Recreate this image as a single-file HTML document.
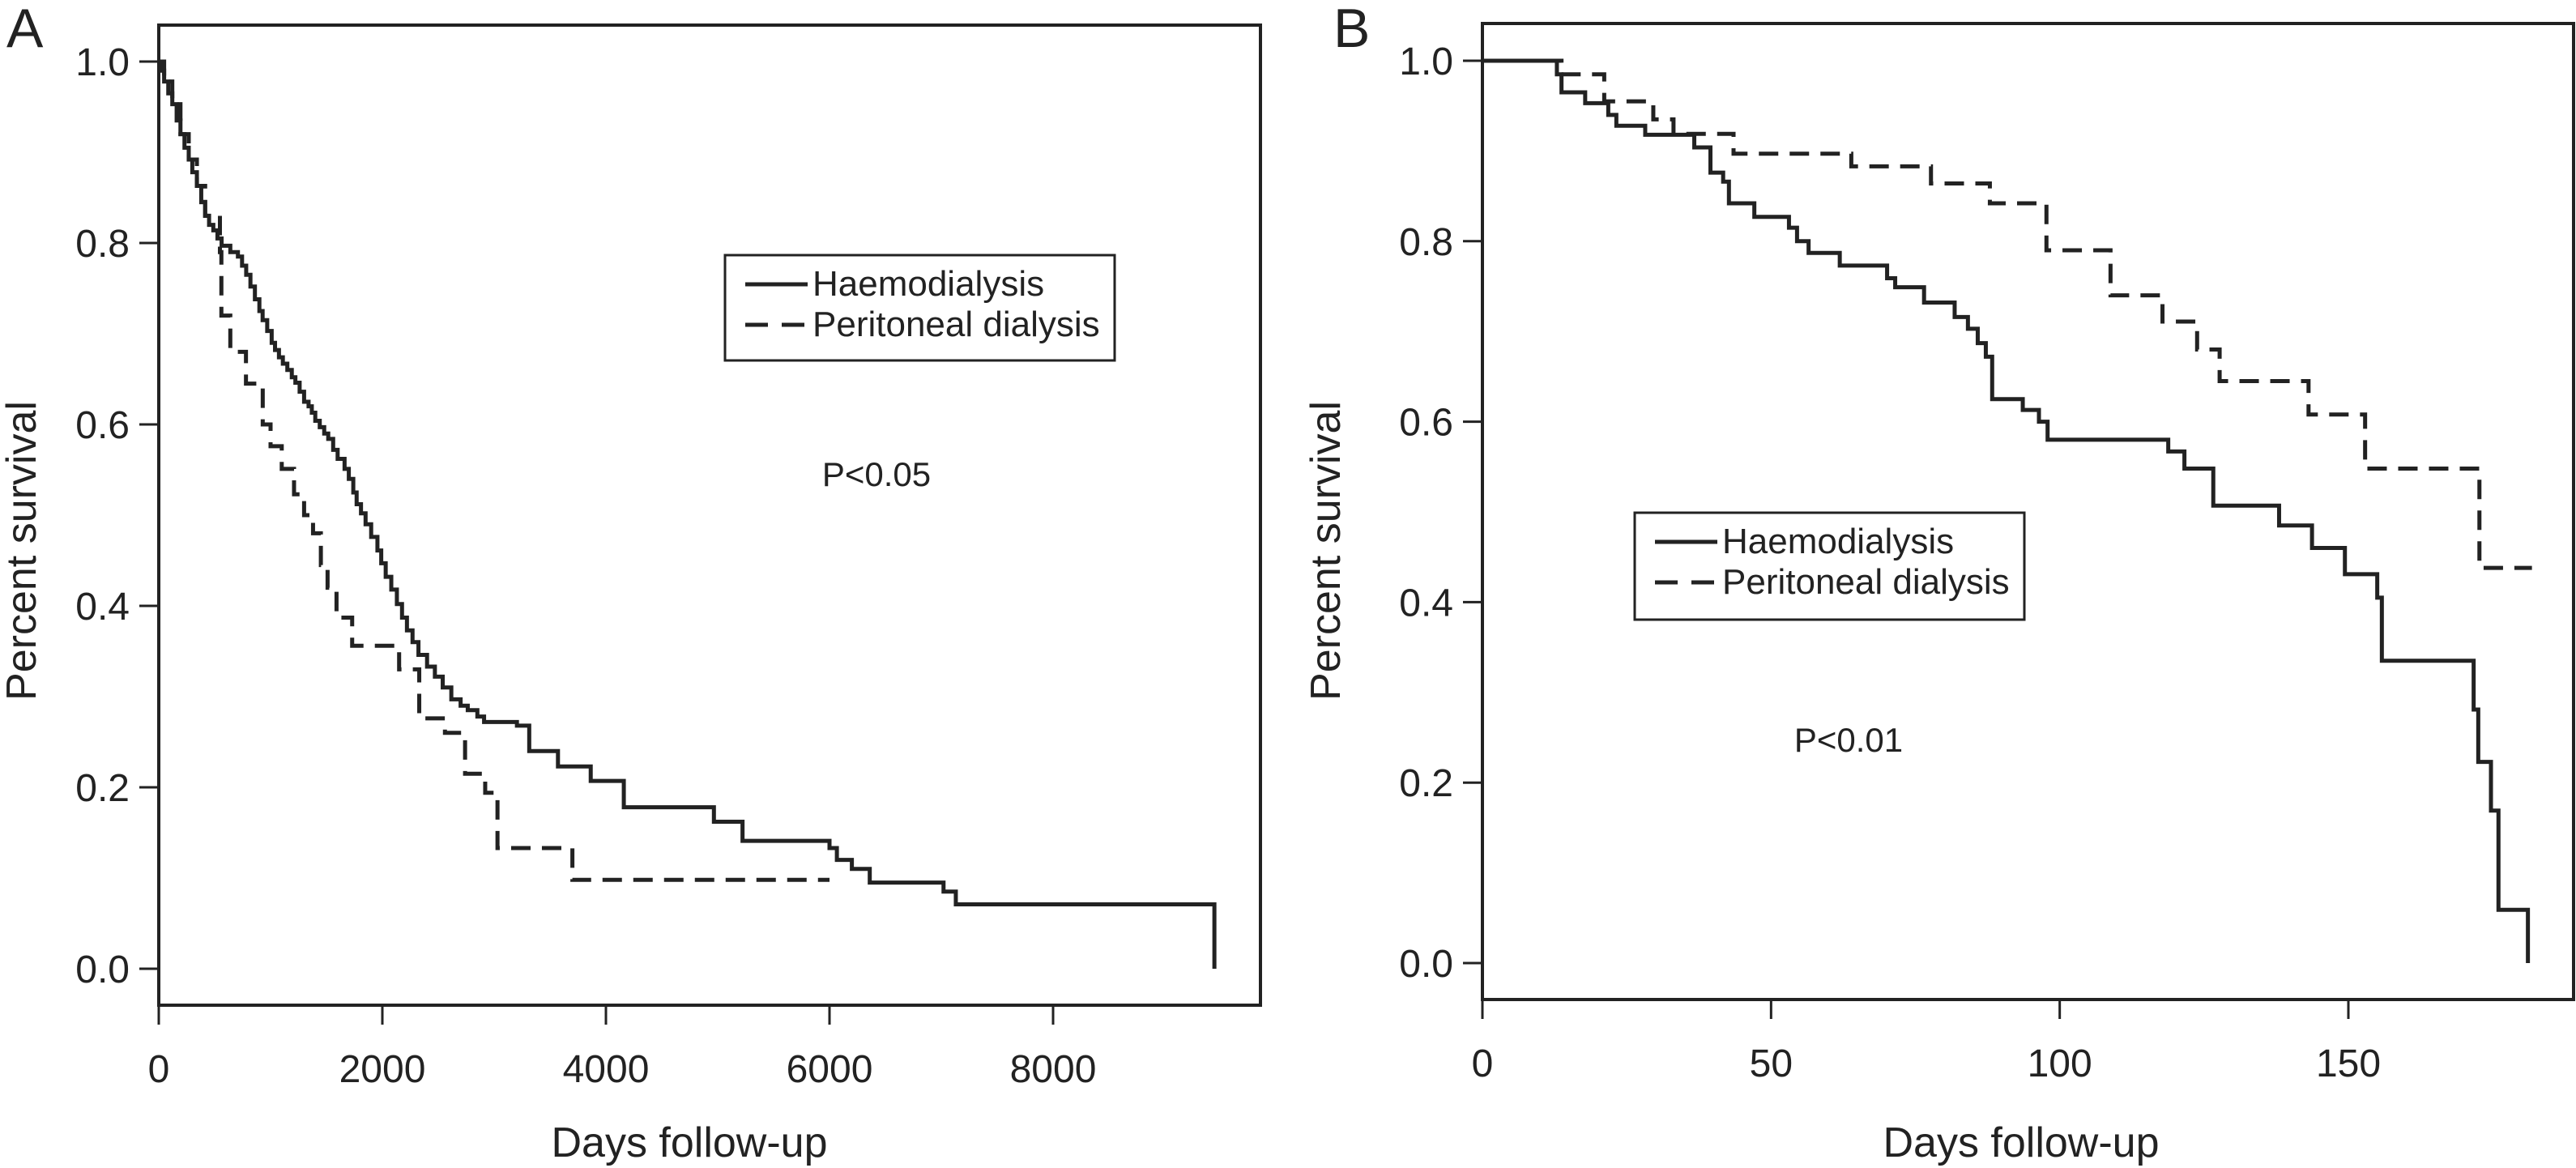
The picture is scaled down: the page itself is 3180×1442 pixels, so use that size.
<!DOCTYPE html>
<html><head><meta charset="utf-8">
<style>
html,body{margin:0;padding:0;background:#fff;}
svg{display:block;font-family:"Liberation Sans",sans-serif;}
</style></head>
<body>
<svg id="fig" width="3180" height="1442" viewBox="0 0 3180 1442" xmlns="http://www.w3.org/2000/svg">
<rect width="3180" height="1442" fill="#fff"/>
<g id="panelA"></g>
<g id="panelB"></g>
</svg>
<script>
// Panel A data
const aXTicks = [0, 2000, 4000, 6000, 8000];
const aYTicks = [0.0, 0.2, 0.4, 0.6, 0.8, 1.0];
const aHdDays = [0,20,48,85,121,160,194,230,268,300,341,380,415,450,488,525,562,640,708,745,782,820,860,900,929,970,1010,1040,1075,1110,1150,1190,1222,1260,1300,1340,1369,1400,1440,1480,1516,1560,1600,1662,1700,1740,1770,1809,1850,1900,1956,1990,2030,2080,2130,2176,2220,2270,2323,2400,2470,2540,2617,2700,2764,2850,2910,3204,3314,3571,3864,4160,4966,5222,6000,6066,6200,6360,7020,7130];
const aHdSurv = [1,0.99,0.978,0.965,0.953,0.935,0.92,0.905,0.892,0.878,0.863,0.845,0.83,0.82,0.814,0.805,0.797,0.79,0.785,0.775,0.765,0.752,0.738,0.725,0.715,0.703,0.69,0.682,0.674,0.667,0.66,0.652,0.646,0.636,0.625,0.62,0.613,0.604,0.597,0.59,0.584,0.572,0.562,0.551,0.54,0.525,0.512,0.502,0.49,0.476,0.461,0.447,0.432,0.418,0.402,0.387,0.373,0.36,0.346,0.333,0.322,0.31,0.297,0.29,0.285,0.278,0.272,0.268,0.24,0.223,0.207,0.178,0.162,0.141,0.133,0.12,0.11,0.095,0.085,0.071];
const aHdEnd = 9443;
const aPdDays = [0,48,121,194,268,341,415,547,560,640,780,930,1000,1100,1210,1300,1380,1450,1510,1590,1730,2150,2330,2560,2740,2920,3030,3700];
const aPdSurv = [1,0.978,0.953,0.92,0.892,0.863,0.83,0.79,0.72,0.68,0.645,0.6,0.576,0.551,0.523,0.5,0.48,0.445,0.42,0.387,0.356,0.33,0.276,0.26,0.215,0.194,0.133,0.098];
const aPdEnd = 6000;
// Panel B data
const bXTicks = [0, 50, 100, 150];
const bYTicks = [0.0, 0.2, 0.4, 0.6, 0.8, 1.0];
const bHdDays = [0,12.9,13.7,17.8,21.8,23.2,28.2,36.7,39.5,41.7,42.7,47.1,53.1,54.5,56.5,61.9,70.1,71.5,76.5,81.8,84.1,85.8,87.2,88.3,93.6,96.4,97.9,118.8,121.6,126.6,138.0,143.7,149.4,155.0,155.8,171.7,172.5,174.7,176.0];
const bHdSurv = [1,0.985,0.965,0.953,0.94,0.928,0.918,0.904,0.876,0.866,0.842,0.827,0.815,0.8,0.787,0.773,0.759,0.749,0.732,0.716,0.703,0.687,0.672,0.625,0.613,0.6,0.58,0.567,0.548,0.507,0.485,0.46,0.431,0.405,0.335,0.281,0.223,0.169,0.059];
const bHdEnd = 181.1;
const bPdDays = [0,13.7,21.1,29.6,33.1,43.5,63.9,77.7,87.9,97.7,108.8,117.8,123.8,127.7,143.1,152.9,172.7];
const bPdSurv = [1,0.985,0.955,0.935,0.919,0.897,0.883,0.864,0.842,0.79,0.74,0.711,0.68,0.645,0.608,0.548,0.438];
const bPdEnd = 181.8;

const NS = "http://www.w3.org/2000/svg";
function mk(parent, tag, attrs, text){
  const e = document.createElementNS(NS, tag);
  for (const k in attrs) e.setAttribute(k, attrs[k]);
  if (text !== undefined) e.textContent = text;
  parent.appendChild(e);
  return e;
}
function stepPath(xs, days, surv, end, dropToZero){
  let d = "M" + xs.x(days[0]) + "," + xs.y(surv[0]);
  for (let i = 1; i < days.length; i++){
    d += " H" + xs.x(days[i]) + " V" + xs.y(surv[i]);
  }
  d += " H" + xs.x(end);
  if (dropToZero) d += " V" + xs.y(0);
  return d;
}
function panel(g, cfg){
  const sx = v => cfg.x0 + (v - cfg.xmin) / (cfg.xmax - cfg.xmin) * (cfg.x1 - cfg.x0);
  const sy = v => cfg.y0 + v * (cfg.y1 - cfg.y0);
  const xs = {x: sx, y: sy};
  const box = mk(g, "rect", {x: cfg.bx0, y: cfg.by0, width: cfg.bx1 - cfg.bx0, height: cfg.by1 - cfg.by0, fill: "none", stroke: "#222", "stroke-width": 4});
  
  
  cfg.yTicks.forEach(t => {
    const l = mk(g, "line", {x1: cfg.bx0 - 24, x2: cfg.bx0, y1: sy(t), y2: sy(t), stroke: "#222", "stroke-width": 3});
    
    
    const tx = mk(g, "text", {x: cfg.bx0 - 36, y: sy(t) + 17, "text-anchor": "end", "font-size": 48, fill: "#222"}, t.toFixed(1));
    
    
  });
  cfg.xTicks.forEach(t => {
    const l = mk(g, "line", {x1: sx(t), x2: sx(t), y1: cfg.by1, y2: cfg.by1 + 24, stroke: "#222", "stroke-width": 3});
    
    
    const tx = mk(g, "text", {x: sx(t), y: cfg.by1 + 95, "text-anchor": "middle", "font-size": 48, fill: "#222"}, String(t));
    
    
  });
  const xt = mk(g, "text", {x: cfg.xTitleX, y: 1428, "text-anchor": "middle", "font-size": 52, fill: "#222"}, "Days follow-up");
  
  
  const yt = mk(g, "text", {x: 0, y: 0, "text-anchor": "middle", "font-size": 52, fill: "#222", transform: "translate(" + cfg.yTitleX + ",680) rotate(-90)"}, "Percent survival");
  
  
  const lab = mk(g, "text", {x: cfg.labelX, y: 58, "font-size": 68, fill: "#222"}, cfg.label);
  
  
  const pd = mk(g, "path", {d: stepPath(xs, cfg.pdDays, cfg.pdSurv, cfg.pdEnd, false), fill: "none", stroke: "#222", "stroke-width": 5, "stroke-dasharray": "24 14"});
  
  
  const hd = mk(g, "path", {d: stepPath(xs, cfg.hdDays, cfg.hdSurv, cfg.hdEnd, true), fill: "none", stroke: "#222", "stroke-width": 5});
  
  
  const lg = mk(g, "g", {});
  
  
  const L = cfg.legend;
  mk(lg, "rect", {x: L.x, y: L.y, width: L.w, height: L.h, fill: "#fff", stroke: "#222", "stroke-width": 3});
  const l1 = mk(lg, "line", {x1: L.x + 25, x2: L.x + 102, y1: L.y + 36, y2: L.y + 36, stroke: "#222", "stroke-width": 5});
  
  
  const t1 = mk(lg, "text", {x: L.x + 108, y: L.y + 50, "font-size": 44, fill: "#222"}, "Haemodialysis");
  
  
  const l2 = mk(lg, "line", {x1: L.x + 25, x2: L.x + 102, y1: L.y + 86, y2: L.y + 86, stroke: "#222", "stroke-width": 5, "stroke-dasharray": "28 17"});
  
  
  const t2 = mk(lg, "text", {x: L.x + 108, y: L.y + 100, "font-size": 44, fill: "#222"}, "Peritoneal dialysis");
  
  
  const p = mk(g, "text", {x: cfg.pX, y: cfg.pY, "text-anchor": "middle", "font-size": 42, fill: "#222"}, cfg.pText);
  
  
}
panel(document.getElementById("panelA"), {
  x0: 196, x1: 1300, xmin: 0, xmax: 8000, y0: 1196, y1: 76,
  bx0: 196, bx1: 1556, by0: 31, by1: 1241,
  xTicks: aXTicks, yTicks: aYTicks,
  hdDays: aHdDays, hdSurv: aHdSurv, hdEnd: aHdEnd,
  pdDays: aPdDays, pdSurv: aPdSurv, pdEnd: aPdEnd,
  xTitleX: 851, yTitleX: 44, label: "A", labelX: 8,
  legend: {x: 895, y: 315, w: 481, h: 130},
  pX: 1082, pY: 600, pText: "P<0.05"
});
panel(document.getElementById("panelB"), {
  x0: 1830, x1: 2899, xmin: 0, xmax: 150, y0: 1189, y1: 75,
  bx0: 1830, bx1: 3177, by0: 29, by1: 1234,
  xTicks: bXTicks, yTicks: bYTicks,
  hdDays: bHdDays, hdSurv: bHdSurv, hdEnd: bHdEnd,
  pdDays: bPdDays, pdSurv: bPdSurv, pdEnd: bPdEnd,
  xTitleX: 2495, yTitleX: 1654, label: "B", labelX: 1646,
  legend: {x: 2018, y: 633, w: 481, h: 132},
  pX: 2282, pY: 928, pText: "P<0.01"
});
</script>
</body></html>
